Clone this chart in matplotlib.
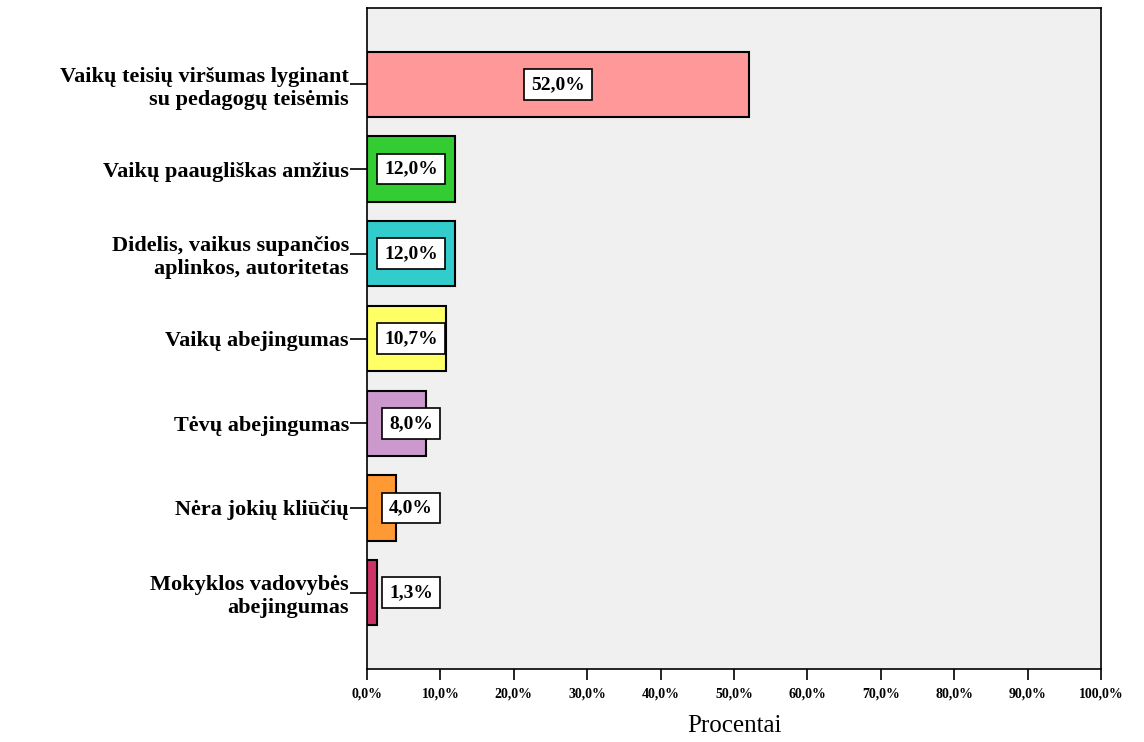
import numpy as np
import matplotlib.pyplot as plt
from matplotlib.ticker import FuncFormatter

# Data
categories = [
    "Vaikų teisių viršumas lyginant\nsu pedagogų teisėmis",
    "Vaikų paaugliškas amžius",
    "Didelis, vaikus supančios\naplinkos, autoritetas",
    "Vaikų abejingumas",
    "Tėvų abejingumas",
    "Nėra jokių kliūčių",
    "Mokyklos vadovybės\nabejingumas",
]
percent = [52.0, 12.0, 12.0, 10.7, 8.0, 4.0, 1.3]
colors = ["#FF9999", "#33CC33", "#33CCCC", "#FFFF66", "#CC99CC", "#FF9933", "#CC3366"]
xticks = np.arange(0, 101, 10)

plt.rcParams['font.family'] = ['Liberation Serif', 'DejaVu Serif']

fig = plt.figure(figsize=(11.44, 7.42), dpi=100)
ax = fig.add_axes([0.3208, 0.0984, 0.6416, 0.8908])
ax.set_facecolor("#F0F0F0")

ypos = np.arange(len(categories))
ax.barh(ypos, percent, height=0.77, color=colors, edgecolor="black", linewidth=1.5, zorder=2)

# value labels in white boxes
for y, v in zip(ypos, percent):
    xc = max(v / 2, 6.0)
    ax.text(xc, y, f"{v:.1f}%".replace(".", ","), ha="center", va="center",
            fontsize=14, fontweight="bold", zorder=3,
            bbox=dict(boxstyle="square,pad=0.35", fc="white", ec="black", lw=1.2))

ax.set_xlim(0, 100)
ax.set_ylim(len(categories) - 0.1, -0.9)
ax.set_yticks(ypos)
ax.set_yticklabels(categories, fontsize=16, fontweight="bold", ha="right",
                   multialignment="right", linespacing=1.2)
ax.set_xticks(xticks)
ax.xaxis.set_major_formatter(FuncFormatter(lambda x, p: f"{x:.1f}%".replace(".", ",")))
for lbl in ax.get_xticklabels():
    lbl.set_fontsize(10)
    lbl.set_fontweight("bold")
ax.tick_params(axis="y", length=12, width=1.2, pad=1)
ax.tick_params(axis="x", length=8, width=1.2, pad=5)
ax.set_xlabel("Procentai", fontsize=18, labelpad=11)

for s in ax.spines.values():
    s.set_linewidth(1.2)
    s.set_color("black")

fig.savefig("out.png", dpi=100)
